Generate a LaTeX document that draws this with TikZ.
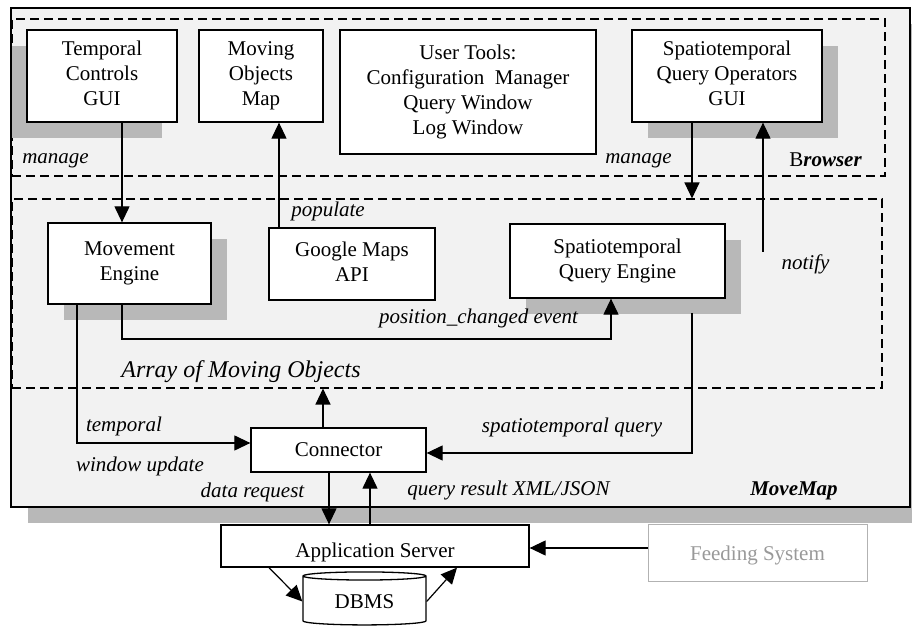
\documentclass[tikz,border=0pt]{standalone}
\usepackage{fontspec}
\setmainfont{Liberation Serif}
\usetikzlibrary{arrows.meta, shapes.geometric, shadows}

\begin{document}
\begin{tikzpicture}[
        x=0.5pt, y=-0.5pt,
        font=\fontsize{10.5}{12.5}\selectfont,
        every node/.style={align=center},
        box/.style={rectangle, draw=black, fill=white, line width=0.65pt, inner sep=2pt,
                    execute at begin node={\rule{0pt}{9.75pt}},
                    execute at end node={\rule[-2.75pt]{0pt}{2.75pt}}},
        shbox/.style={box, drop shadow={shadow xshift=#1, shadow yshift=-8pt,
                      fill=black!28, opacity=1}},
        shbox/.default=8pt,
        zone/.style={rectangle, draw=black, line width=0.55pt,
                     dash pattern=on 4.5pt off 2.5pt},
        arrow/.style={-{Triangle[length=8pt, width=7.5pt]}, line width=0.6pt},
        lbl/.style={font=\fontsize{10.5}{12.5}\selectfont\itshape, inner sep=0pt}
    ]
        \useasboundingbox (0,0) rectangle (912,630);

        % Containers: MoveMap, Browser and the array of moving objects
        \node[rectangle, draw=black, line width=0.7pt, fill=black!5,
              drop shadow={shadow xshift=8.5pt, shadow yshift=-8pt, fill=black!28, opacity=1},
              minimum width=449.5pt, minimum height=249.5pt] (movemap) at (460.5,257.5) {};
        \node[zone, minimum width=436.5pt, minimum height=78.5pt] (browser) at (448.5,97.5) {};
        \node[zone, minimum width=435pt, minimum height=94.5pt] (objarray) at (447,293.5) {};

        % Row 1: browser components
        \node[shbox=-7.5pt, minimum width=75pt, minimum height=46pt] (tcgui) at (102,76)
            {Temporal\\Controls\\GUI};
        \node[box, minimum width=62pt, minimum height=46pt] (momap) at (261,76)
            {Moving\\Objects\\Map};
        \node[box, minimum width=128pt, minimum height=62pt] (tools) at (468,92)
            {User Tools:\\Configuration~ Manager\\Query Window\\Log Window};
        \node[shbox, minimum width=95pt, minimum height=46pt] (qogui) at (727,76)
            {Spatiotemporal\\Query Operators\\GUI};

        % Row 2: engines
        \node[shbox, minimum width=81.5pt, minimum height=40.5pt] (moveeng) at (129.5,263.5)
            {Movement\\Engine};
        \node[box, minimum width=83pt, minimum height=36pt] (gmaps) at (352,264)
            {Google Maps\\API};
        \node[shbox, minimum width=107.5pt, minimum height=37pt] (qengine) at (617.5,261)
            {Spatiotemporal\\Query Engine};

        % Row 3: connector, server side
        \node[box, minimum width=87.5pt, minimum height=22pt] (conn) at (338.5,450) {Connector};
        \node[box, minimum width=154pt, minimum height=21pt, text height=14pt, text depth=2pt]
            (appsrv) at (375,546) {Application Server};
        \node[box, cylinder, shape border rotate=90, aspect=0.12,
              minimum width=61.5pt, minimum height=26.5pt] (dbms) at (364.5,601.5) {DBMS};
        \node[box, draw=black!30, text=black!40, line width=0.5pt,
              minimum width=109.5pt, minimum height=28.5pt] (feed) at (757.5,553.5)
            {Feeding System};

        % Labels
        \node[lbl] (manageL) at (55.5,161) {manage};
        \node[lbl] (manageR) at (638.5,161) {manage};
        \node[lbl] (browserlbl) at (825.5,160) {{\upshape B}\textbf{rowser}};
        \node[lbl] (populate) at (328,211.5) {populate};
        \node[lbl] (notify) at (805.5,264) {notify};
        \node[lbl] (poschg) at (478.5,318) {position\_changed event};
        \node[lbl, font=\fontsize{12}{14}\selectfont\itshape] (arraylbl) at (241,372)
            {Array of Moving Objects};
        \node[lbl] (temporal) at (124,426) {temporal};
        \node[lbl] (winupd) at (140,466) {window update};
        \node[lbl] (stquery) at (572,427) {spatiotemporal query};
        \node[lbl] (datareq) at (252.5,492) {data request};
        \node[lbl] (qresult) at (508.5,490) {query result XML/JSON};
        \node[lbl, font=\fontsize{10.5}{12.5}\selectfont\bfseries\itshape] (movemaplbl)
            at (794,491) {MoveMap};

        % --- Arrows ---
        \draw[arrow] (tcgui.south -| 122,0) -- (moveeng.north -| 122,0);
        \draw[arrow] (gmaps.north -| 279,0) -- (momap.south -| 279,0);
        \draw[arrow] (qogui.south -| 692,0) -- (objarray.north -| 692,0);
        \coordinate (notifyfoot) at (763,252);
        \draw[arrow] (notifyfoot) -- (notifyfoot |- qogui.south);

        % position_changed event from the movement engine
        \coordinate (pcbend) at (611,339);
        \draw[arrow] (moveeng.south -| 122,0) |- (pcbend) -- (pcbend |- qengine.south);
        % temporal window update to the connector
        \draw[arrow] (moveeng.south -| 77,0) |- (conn.west |- 0,443);
        \draw[arrow] (conn.north -| 323,0) -- (objarray.south -| 323,0);
        % spatiotemporal query to the connector
        \coordinate (qefoot) at (692,313);
        \draw[arrow] (qefoot) |- (conn.east |- 0,453);

        % Connector <-> Application Server
        \draw[arrow] (conn.south -| 329,0) -- (appsrv.north -| 329,0);
        \draw[arrow] (appsrv.north -| 370,0) -- (conn.south -| 370,0);
        \draw[arrow] (feed.west |- 0,548) -- (appsrv.east |- 0,548);

        % Application Server <-> DBMS
        \draw[arrow] (appsrv.south -| 269,0) -- (dbms.west);
        \draw[arrow] (dbms.east) -- (appsrv.south -| 457,0);
    \end{tikzpicture}
\end{document}
